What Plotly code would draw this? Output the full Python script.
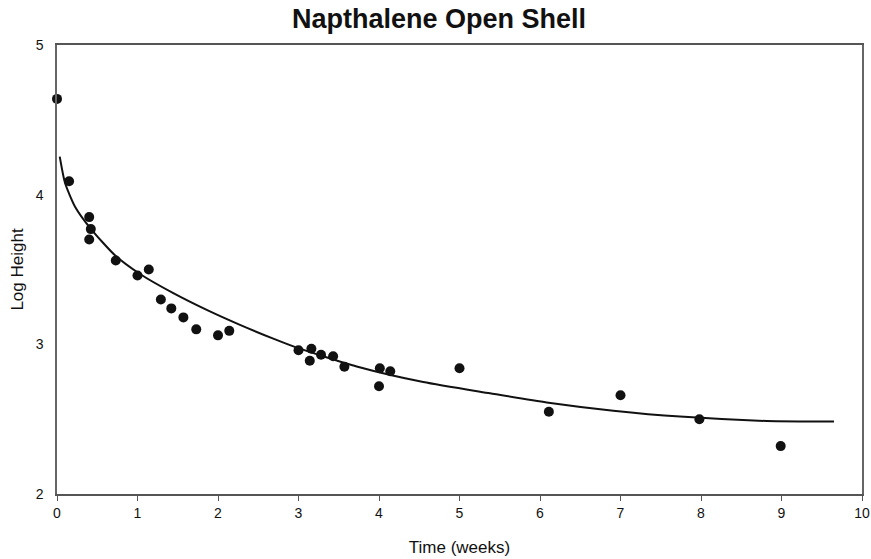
import plotly.graph_objects as go

time_weeks = [0.0, 0.15, 0.40, 0.42, 0.40, 0.73, 1.00, 1.14, 1.29, 1.42, 1.57, 1.73,
              2.00, 2.14, 3.00, 3.16, 3.14, 3.28, 3.43, 3.57, 4.01, 4.00, 4.14, 5.00,
              6.11, 7.00, 7.98, 8.99]
log_height = [4.64, 4.09, 3.85, 3.77, 3.70, 3.56, 3.46, 3.50, 3.30, 3.24, 3.18, 3.10,
              3.06, 3.09, 2.96, 2.97, 2.89, 2.93, 2.92, 2.85, 2.84, 2.72, 2.82, 2.84,
              2.55, 2.66, 2.50, 2.32]

# Trend line samples
fit_time = [0.034, 0.099, 0.224, 0.431, 0.720, 1.031, 1.445, 1.860, 2.273, 2.687,
            2.978, 3.723, 4.550, 5.379, 6.083, 6.911, 7.739, 8.816, 9.652]
fit_log_height = [4.254, 4.080, 3.920, 3.765, 3.595, 3.470, 3.342, 3.230, 3.130, 3.038,
                  2.978, 2.852, 2.748, 2.673, 2.612, 2.557, 2.517, 2.488, 2.484]

x_ticks = list(range(0, 11))
y_ticks = [2, 3, 4, 5]

font_family = "Liberation Sans, Arial, sans-serif"

W, H = 871, 559

fig = go.Figure()
fig.add_trace(go.Scatter(
    x=fit_time, y=fit_log_height, mode="lines",
    line=dict(color="#111111", width=2, shape="spline", smoothing=0.6),
    hoverinfo="skip", showlegend=False, cliponaxis=False,
))
fig.add_trace(go.Scatter(
    x=time_weeks, y=log_height, mode="markers",
    marker=dict(color="#111111", size=10),
    showlegend=False, cliponaxis=False,
))

fig.update_layout(
    width=W, height=H,
    paper_bgcolor="white", plot_bgcolor="white",
    margin=dict(l=57, r=9, t=45, b=65),
    font=dict(family=font_family, color="#111111"),
    title=dict(text="<b>Napthalene Open Shell</b>", font=dict(size=27, family=font_family, color="#111111"),
               x=439 / W, xref="container", xanchor="center",
               y=1 - 19 / H, yref="container", yanchor="middle"),
    showlegend=False,
)
fig.update_xaxes(
    range=[0, 10], tickvals=x_ticks, ticktext=[str(v) for v in x_ticks],
    automargin=False,
    showgrid=False, zeroline=False,
    showline=True, linecolor="#555555", linewidth=1.5, mirror=True,
    ticks="outside", ticklen=5, tickcolor="#555555",
    tickfont=dict(size=14),
    title=dict(text="Time (weeks)", font=dict(size=17), standoff=22),
)
fig.update_yaxes(
    range=[2, 5], tickvals=y_ticks, ticktext=[str(v) for v in y_ticks],
    automargin=False,
    showgrid=False, zeroline=False,
    showline=True, linecolor="#666666", linewidth=1.5, mirror=True,
    ticks="", ticklabelstandoff=9,
    tickfont=dict(size=14),
    title=dict(text="Log Height", font=dict(size=17), standoff=8),
)

fig.write_html(
    "out.html",
    config={"displayModeBar": False},
    post_script="document.body.style.margin='0';document.body.style.overflow='hidden';",
)
